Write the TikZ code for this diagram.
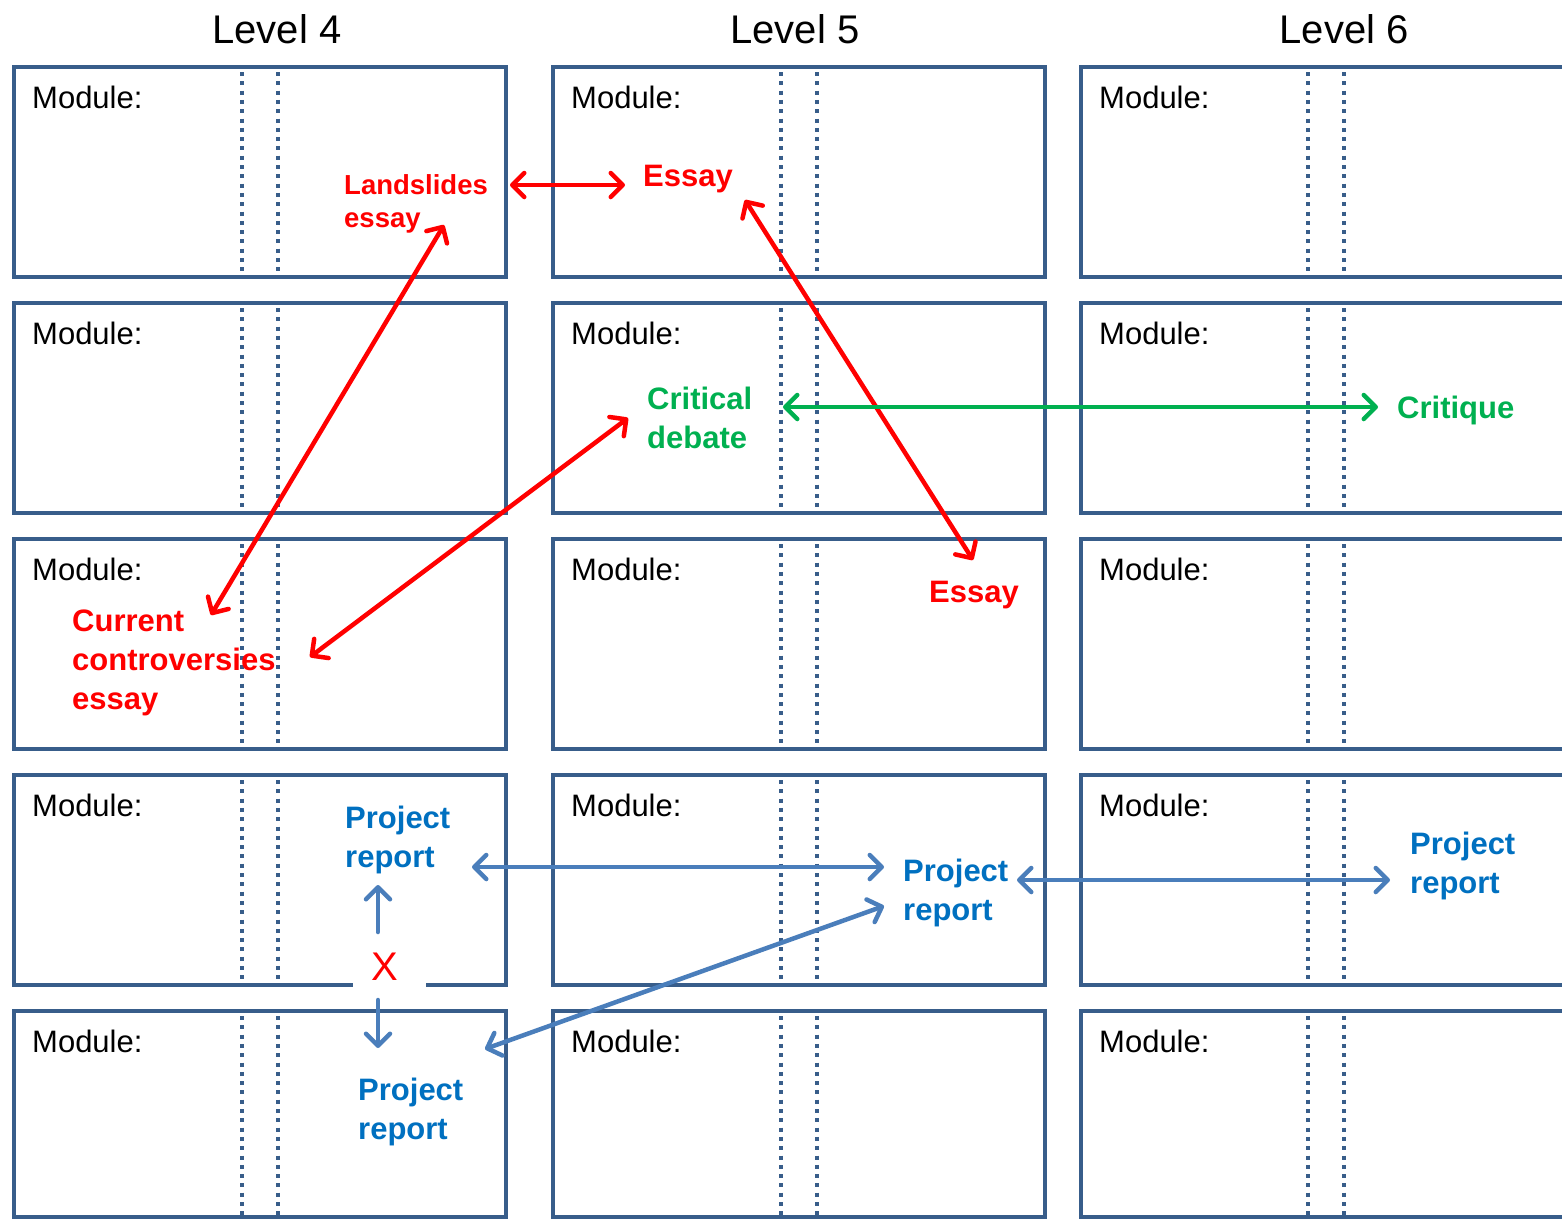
\documentclass[tikz,border=0pt]{standalone}
\usepackage{fontspec}
\setmainfont{Liberation Sans}
\usetikzlibrary{arrows.meta}
\definecolor{frame}{HTML}{385D8A}
\definecolor{redlink}{HTML}{FF0000}
\definecolor{greenlink}{HTML}{00B050}
\definecolor{bluelink}{HTML}{4A7EBB}
\definecolor{bluetext}{HTML}{0070C0}
\tikzset{barb/.tip={Straight Barb[length=12pt,width=24pt,line cap=round,line join=round]}}

\begin{document}
\begin{tikzpicture}[x=1pt,y=-1pt,
  modbox/.style={draw=frame,line width=3.5pt},
  divider/.style={draw=frame,line width=4.2pt,dash pattern=on 4pt off 5.3pt},
  modlabel/.style={anchor=base west,inner sep=0pt,font=\fontsize{31}{37}\selectfont},
  levellabel/.style={anchor=base,inner sep=0pt,font=\fontsize{40}{48}\selectfont},
  tag/.style={anchor=base west,inner sep=0pt,align=left,font=\fontsize{31}{39}\selectfont\bfseries},
  link/.style={line width=4.5pt,line cap=round,barb-barb},
  onelink/.style={line width=4.5pt,line cap=round,-barb},
]
\useasboundingbox (0,0) rectangle (1562,1219);
\clip (0,0) rectangle (1562,1219);

% column headings
\node[levellabel] (lv4) at (277,43) {Level 4};
\node[levellabel] (lv5) at (795,43) {Level 5};
\node[levellabel] (lv6) at (1344,43) {Level 6};

% module grid: three columns, five rows
\foreach \c/\xl/\xr/\da/\db in {1/14/506/242/278, 2/553/1045/781/817, 3/1081/1600/1308/1344}{
  \foreach \r/\yt/\yb in {1/67/277, 2/303/513, 3/539/749, 4/775/985, 5/1011/1217}{
    \draw[modbox] (\xl,\yt) rectangle (\xr,\yb);
    \draw[divider] (\da,\yt+5) -- (\da,\yb);
    \draw[divider] (\db,\yt+5) -- (\db,\yb);
    \node[modlabel] (mod-\r-\c) at (\xl+18,\yt+41) {Module:};
  }
}

% assessment labels (anchored at the baseline of their last line)
\node[tag,text=redlink,font=\fontsize{27.5}{33}\selectfont\bfseries] (landslides) at (344,227) {Landslides\\essay};
\node[tag,text=redlink] (essayA) at (643,186) {Essay};
\node[tag,text=greenlink] (debate) at (647,448) {Critical\\debate};
\node[tag,text=greenlink] (critique) at (1397,418) {Critique};
\node[tag,text=redlink] (essayB) at (929,602) {Essay};
\node[tag,text=redlink] (controv) at (72,709) {Current\\controversies\\essay};
\node[tag,text=bluetext] (projA) at (345,867) {Project\\report};
\node[tag,text=bluetext] (projB) at (903,920) {Project\\report};
\node[tag,text=bluetext] (projC) at (1410,893) {Project\\report};
\node[tag,text=bluetext] (projD) at (358,1139) {Project\\report};

% blocked link between the two level-4 projects
\node[fill=white,text=redlink,font=\fontsize{40}{48}\selectfont,minimum width=73pt,minimum height=44pt,inner sep=0pt] (cross) at (389.5,967) {\makebox[37pt][l]{X}};

% link end points
\coordinate (landR) at (510,185);
\coordinate (essAL) at (625,185);
\coordinate (landB) at (444,225);
\coordinate (contT) at (211,615);
\coordinate (essAB) at (745,200);
\coordinate (essBT) at (973,560);
\coordinate (debL) at (628,418);
\coordinate (contR) at (310,657);
\coordinate (debR) at (783,407);
\coordinate (critL) at (1378,407);
\coordinate (projAR) at (472,867);
\coordinate (projBL) at (884,867);
\coordinate (projBR) at (1017,880);
\coordinate (projCL) at (1390,880);
\coordinate (projBLb) at (884,906);
\coordinate (projDR) at (485,1049);
\coordinate (crossUp) at (378,932);
\coordinate (projAB) at (378,885);
\coordinate (crossDn) at (378,1000);
\coordinate (projDT) at (378,1048);

% red links
\draw[link,draw=redlink] (landR) -- (essAL);
\draw[link,draw=redlink] (landB) -- (contT);
\draw[link,draw=redlink] (essAB) -- (essBT);
\draw[link,draw=redlink] (debL) -- (contR);
% green link
\draw[link,draw=greenlink] (debR) -- (critL);
% blue links
\draw[link,draw=bluelink] (projAR) -- (projBL);
\draw[link,draw=bluelink] (projBR) -- (projCL);
\draw[link,draw=bluelink] (projBLb) -- (projDR);
\draw[onelink,draw=bluelink] (crossUp) -- (projAB);
\draw[onelink,draw=bluelink] (crossDn) -- (projDT);
\end{tikzpicture}
\end{document}
